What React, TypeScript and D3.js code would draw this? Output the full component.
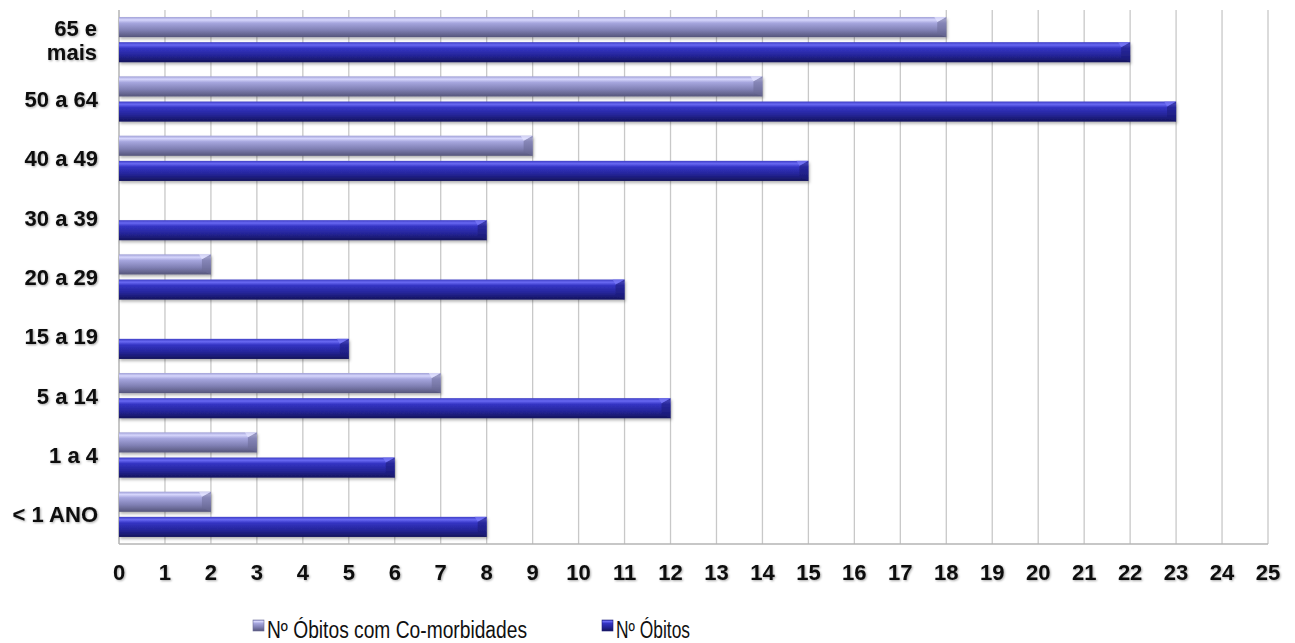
import * as d3 from "d3";
import { FC, useEffect, useRef } from "react";

// age groups, top to bottom as in the chart
const categories = [
  "65 e mais",
  "50 a 64",
  "40 a 49",
  "30 a 39",
  "20 a 29",
  "15 a 19",
  "5 a 14",
  "1 a 4",
  "< 1 ANO",
];
const comorbidades = [18, 14, 9, 0, 2, 0, 7, 3, 2];
const obitos = [22, 23, 15, 8, 11, 5, 12, 6, 8];
const xTicks = d3.range(0, 26);

const seriesNames = ["Nº Óbitos com Co-morbidades", "Nº Óbitos"];

const W = 1295;
const H = 643;

const Chart: FC = () => {
  const svgRef = useRef<SVGSVGElement>(null);

  useEffect(() => {
    const svg = d3.select(svgRef.current);
    svg.selectAll("*").remove();
    svg.attr("width", W).attr("height", H);

    const plot = { left: 119, right: 1268, top: 10, bottom: 544 };

    const x = d3.scaleLinear().domain([0, 25]).range([plot.left, plot.right]);
    const y = d3
      .scaleBand<string>()
      .domain(categories)
      .range([plot.top, plot.bottom])
      .padding(0);
    const sub = d3
      .scaleBand<string>()
      .domain(["c", "o"])
      .range([0, y.bandwidth()])
      .paddingInner(0.2)
      .paddingOuter(0.28);

    // gradients + filters
    const defs = svg.append("defs");
    const grad = (id: string, stops: [number, string][]) => {
      const g = defs
        .append("linearGradient")
        .attr("id", id)
        .attr("x1", 0)
        .attr("y1", 0)
        .attr("x2", 0)
        .attr("y2", 1);
      stops.forEach(([o, c]) =>
        g.append("stop").attr("offset", `${o}%`).attr("stop-color", c)
      );
    };
    grad("gC", [
      [0, "#9e9ed6"],
      [14, "#d6d6fc"],
      [30, "#a6a6de"],
      [65, "#8080b4"],
      [100, "#55557a"],
    ]);
    grad("gO", [
      [0, "#3c3cc4"],
      [14, "#6868f2"],
      [30, "#3434c4"],
      [65, "#25259a"],
      [100, "#14145c"],
    ]);

    const shadow = defs
      .append("filter")
      .attr("id", "barShadow")
      .attr("x", "-5%")
      .attr("y", "-30%")
      .attr("width", "110%")
      .attr("height", "180%");
    shadow
      .append("feDropShadow")
      .attr("dx", 1)
      .attr("dy", 2)
      .attr("stdDeviation", 1.5)
      .attr("flood-color", "#000")
      .attr("flood-opacity", 0.3);

    const txtShadow = defs
      .append("filter")
      .attr("id", "txtShadow")
      .attr("x", "-10%")
      .attr("y", "-20%")
      .attr("width", "130%")
      .attr("height", "150%");
    txtShadow
      .append("feDropShadow")
      .attr("dx", 1)
      .attr("dy", 1)
      .attr("stdDeviation", 1)
      .attr("flood-color", "#000")
      .attr("flood-opacity", 0.35);

    // grid
    const grid = svg.append("g");
    grid
      .selectAll("line")
      .data(xTicks)
      .enter()
      .append("line")
      .attr("x1", (d) => x(d))
      .attr("x2", (d) => x(d))
      .attr("y1", plot.top)
      .attr("y2", plot.bottom)
      .attr("stroke", (d) => (d === 0 ? "#a8a8a8" : "#c8c8c8"))
      .attr("stroke-width", 1.3);
    grid
      .append("line")
      .attr("x1", plot.left)
      .attr("x2", plot.right)
      .attr("y1", plot.bottom)
      .attr("y2", plot.bottom)
      .attr("stroke", "#b4b4b4")
      .attr("stroke-width", 1.3);

    // bars
    const rows = categories.map((c, i) => ({
      cat: c,
      vals: [
        { key: "c", v: comorbidades[i] },
        { key: "o", v: obitos[i] },
      ],
    }));
    const bars = svg
      .append("g")
      .selectAll("g.row")
      .data(rows)
      .enter()
      .append("g")
      .attr("transform", (d) => `translate(0, ${y(d.cat)})`)
      .selectAll("g.bar")
      .data((d) => d.vals.filter((b) => b.v > 0))
      .enter()
      .append("g")
      .attr("filter", "url(#barShadow)");

    bars
      .append("rect")
      .attr("x", x(0))
      .attr("y", (d) => sub(d.key) ?? 0)
      .attr("width", (d) => x(d.v) - x(0))
      .attr("height", sub.bandwidth())
      .attr("fill", (d) => (d.key === "c" ? "url(#gC)" : "url(#gO)"));

    // bevelled right end
    const bw = sub.bandwidth();
    bars
      .append("polygon")
      .attr("points", (d) => {
        const x1 = x(d.v);
        const y0 = sub(d.key) ?? 0;
        return `${x1 - 9},${y0 + 5} ${x1},${y0} ${x1},${y0 + bw} ${x1 - 9},${y0 + bw - 4}`;
      })
      .attr("fill", (d) => (d.key === "c" ? "#6c6c98" : "#1e1e7a"))
      .attr("opacity", 0.55);
    bars
      .append("polygon")
      .attr("points", (d) => {
        const x1 = x(d.v);
        const y0 = sub(d.key) ?? 0;
        return `${x1 - 9},${y0 + 5} ${x1},${y0} ${x1 - 12},${y0} `;
      })
      .attr("fill", (d) => (d.key === "c" ? "#e4e4ff" : "#7a7af8"))
      .attr("opacity", 0.7);

    // category labels
    const labels = svg
      .append("g")
      .attr("font-family", "Liberation Sans, Arial, sans-serif")
      .attr("font-weight", "bold")
      .attr("font-size", 22)
      .attr("fill", "#0a0a0a")
      .attr("text-anchor", "end")
      .attr("filter", "url(#txtShadow)");
    categories.forEach((c) => {
      const cy = (y(c) ?? 0) + y.bandwidth() / 2;
      if (c === "65 e mais") {
        labels.append("text").attr("x", 97).attr("y", cy - 4).text("65 e");
        labels.append("text").attr("x", 97).attr("y", cy + 20).text("mais");
      } else {
        labels.append("text").attr("x", 98).attr("y", cy + 8).text(c);
      }
    });

    // x tick labels
    svg
      .append("g")
      .attr("font-family", "Liberation Sans, Arial, sans-serif")
      .attr("font-weight", "bold")
      .attr("font-size", 22)
      .attr("fill", "#0a0a0a")
      .attr("text-anchor", "middle")
      .attr("filter", "url(#txtShadow)")
      .selectAll("text")
      .data(xTicks)
      .enter()
      .append("text")
      .attr("x", (d) => x(d))
      .attr("y", 580)
      .text((d) => d);

    // legend
    const legend = svg
      .append("g")
      .attr("font-family", "Liberation Sans, Arial, sans-serif")
      .attr("font-size", 23)
      .attr("fill", "#111");
    const legendX = [253, 602];
    const legendLen = [260, 74];
    seriesNames.forEach((name, i) => {
      const g = legend.append("g").attr("transform", `translate(${legendX[i]}, 620)`);
      g.append("rect")
        .attr("width", 11)
        .attr("height", 11)
        .attr("fill", i === 0 ? "url(#gC)" : "url(#gO)")
        .attr("stroke", i === 0 ? "#6c6c98" : "#1e1e7a")
        .attr("stroke-width", 0.6);
      g.append("text")
        .attr("x", 14)
        .attr("y", 18)
        .attr("textLength", legendLen[i])
        .attr("lengthAdjust", "spacingAndGlyphs")
        .text(name);
    });
  }, []);

  return (
    <svg
      ref={svgRef}
      style={{ position: "fixed", left: 0, top: 0, display: "block", background: "#fff" }}
    />
  );
};

export default function App() {
  return <Chart />;
}
